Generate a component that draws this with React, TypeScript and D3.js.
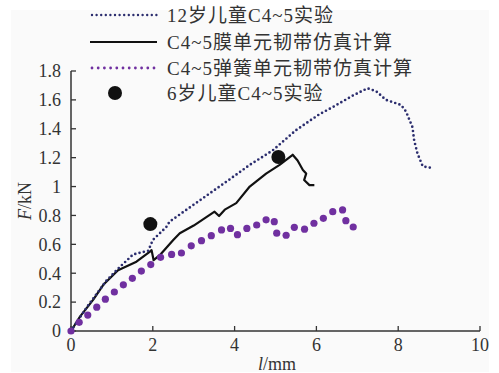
import React from 'react';
import * as d3 from 'd3';

// 12岁儿童C4~5实验 (navy dotted)
const child12X = [0, 0.4, 0.87, 1.2, 1.52, 1.89, 2.0, 2.33, 2.41, 3.88, 4.37, 4.93, 5.5, 6.07, 6.4, 6.89, 7.25, 7.46, 7.7, 8.07, 8.19, 8.35, 8.39, 8.47, 8.6, 8.8];
const child12Y = [0, 0.17, 0.35, 0.445, 0.53, 0.556, 0.63, 0.72, 0.757, 1.05, 1.15, 1.25, 1.39, 1.5, 1.55, 1.63, 1.68, 1.66, 1.6, 1.565, 1.52, 1.41, 1.32, 1.23, 1.14, 1.13];

// C4~5膜单元韧带仿真计算 (black solid)
const membraneX = [0, 0.22, 0.54, 0.79, 1.15, 1.6, 1.93, 1.97, 2.02, 2.17, 2.5, 2.66, 3.0, 3.51, 3.62, 3.76, 4.04, 4.37, 4.77, 5.1, 5.42, 5.54, 5.67, 5.75, 5.7, 5.83, 5.95];
const membraneY = [0, 0.1, 0.215, 0.32, 0.42, 0.48, 0.55, 0.56, 0.49, 0.525, 0.63, 0.677, 0.73, 0.826, 0.796, 0.84, 0.885, 1.0, 1.09, 1.15, 1.22, 1.18, 1.115, 1.09, 1.045, 1.01, 1.01];

// C4~5弹簧单元韧带仿真计算 (purple dots)
const springX = [0, 0.2, 0.41, 0.63, 0.84, 1.06, 1.28, 1.5, 1.72, 1.95, 2.19, 2.46, 2.7, 2.94, 3.19, 3.43, 3.68, 3.9, 4.07, 4.3, 4.54, 4.77, 4.97, 5.03, 5.26, 5.46, 5.71, 5.94, 6.17, 6.4, 6.64, 6.72, 6.9];
const springY = [0, 0.06, 0.11, 0.165, 0.22, 0.27, 0.32, 0.365, 0.415, 0.46, 0.51, 0.53, 0.54, 0.59, 0.625, 0.66, 0.7, 0.71, 0.667, 0.71, 0.734, 0.77, 0.757, 0.677, 0.663, 0.718, 0.705, 0.746, 0.78, 0.826, 0.838, 0.764, 0.72];

// 6岁儿童C4~5实验 (big black dots)
const child6X = [1.94, 5.07];
const child6Y = [0.74, 1.205];

const xTicks = [0, 2, 4, 6, 8, 10];
const yTicks = [0, 0.2, 0.4, 0.6, 0.8, 1, 1.2, 1.4, 1.6, 1.8];

const legendLabels = ['12岁儿童C4~5实验', 'C4~5膜单元韧带仿真计算', 'C4~5弹簧单元韧带仿真计算', '6岁儿童C4~5实验'];

const NAVY = '#2b2d6e';
const PURPLE = '#7030a0';
const AXIS = '#333';
const FONT = '"Liberation Serif", "Times New Roman", "Noto Sans CJK SC", serif';

export default function App() {
  const width = 499;
  const height = 373;
  const x = d3.scaleLinear().domain([0, 10]).range([71, 480]);
  const y = d3.scaleLinear().domain([0, 1.8]).range([331, 71]);

  const makePath = (xs: number[], ys: number[]) => d3.line<number>()
    .x((d, i) => x(xs[i]))
    .y((d, i) => y(ys[i]))(xs) || '';

  const legendRows = [15, 42, 68, 93];

  return (
    <svg width={width} height={height} style={{ position: 'absolute', left: 0, top: 0 }} fontFamily={FONT}>
      <rect x={0} y={0} width={width} height={height} fill="#fff" />
      <rect x={11} y={10} width={478} height={362} fill="#fafafa" />

      {/* axes */}
      <line x1={x(0)} x2={x(10)} y1={y(0)} y2={y(0)} stroke={AXIS} strokeWidth={1.5} />
      <line x1={x(0)} x2={x(0)} y1={y(0)} y2={y(1.8)} stroke={AXIS} strokeWidth={1.5} />
      {xTicks.map((t) => (
        <g key={`x${t}`}>
          <line x1={x(t)} x2={x(t)} y1={y(0)} y2={y(0) - 5} stroke={AXIS} strokeWidth={1.3} />
          <text x={x(t)} y={351} textAnchor="middle" fontSize={18} fill="#333">{t}</text>
        </g>
      ))}
      {yTicks.map((t) => (
        <g key={`y${t}`}>
          <line x1={x(0)} x2={x(0) + 5} y1={y(t)} y2={y(t)} stroke={AXIS} strokeWidth={1.3} />
          <text x={61} y={y(t)} dy="0.35em" textAnchor="end" fontSize={18} fill="#333">{t}</text>
        </g>
      ))}
      <text x={277} y={370} textAnchor="middle" fontSize={18} fill="#333">
        <tspan fontStyle="italic">l</tspan>/mm
      </text>
      <text transform={`translate(31, ${y(0.9)}) rotate(-90)`} textAnchor="middle" fontSize={18} fill="#333">
        <tspan fontStyle="italic">F</tspan>/kN
      </text>

      {/* series */}
      <path d={makePath(membraneX, membraneY)} fill="none" stroke="#111" strokeWidth={2.2} strokeLinejoin="round" />
      <path d={makePath(child12X, child12Y)} fill="none" stroke={NAVY} strokeWidth={2.7} strokeLinecap="round" strokeDasharray="0 4.4" />
      {springX.map((v, i) => (
        <circle key={`s${i}`} cx={x(v)} cy={y(springY[i])} r={3.6} fill={PURPLE} />
      ))}
      {child6X.map((v, i) => (
        <circle key={`c${i}`} cx={x(v)} cy={y(child6Y[i])} r={7} fill="#111" />
      ))}

      {/* legend */}
      <g>
        <line x1={92} x2={157} y1={legendRows[0]} y2={legendRows[0]} stroke={NAVY} strokeWidth={2.4} strokeLinecap="round" strokeDasharray="0 4.6" />
        <line x1={90} x2={157} y1={legendRows[1]} y2={legendRows[1]} stroke="#111" strokeWidth={2.2} />
        <line x1={92} x2={157} y1={legendRows[2]} y2={legendRows[2]} stroke={PURPLE} strokeWidth={2.8} strokeLinecap="round" strokeDasharray="0 6.2" />
        <circle cx={115} cy={legendRows[3]} r={7} fill="#111" />
        {legendLabels.map((l, i) => (
          <text key={l} x={167} y={legendRows[i]} dy="0.35em" fontSize={19} letterSpacing={1} fill="#333">{l}</text>
        ))}
      </g>
    </svg>
  );
}
